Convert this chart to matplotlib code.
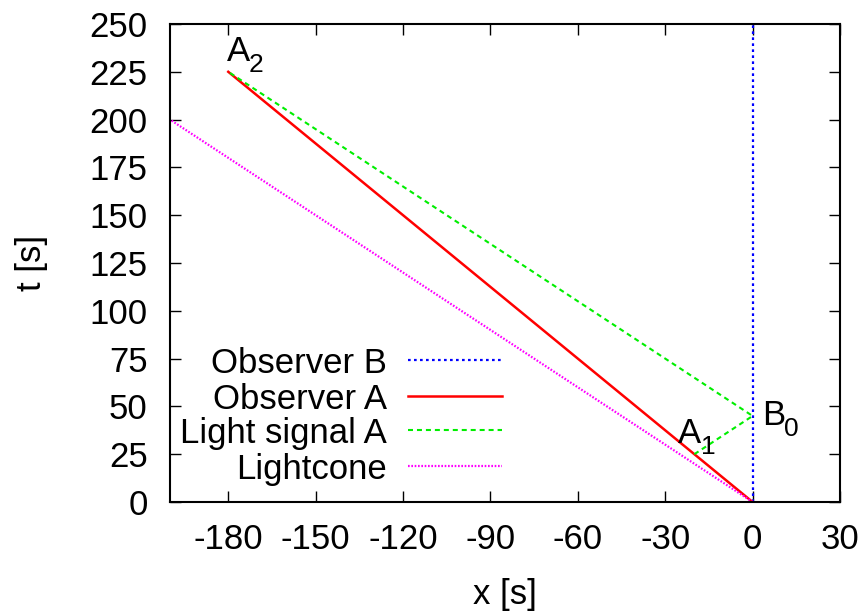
import matplotlib
matplotlib.use("Agg")
import matplotlib.pyplot as plt
from matplotlib.lines import Line2D

plt.rcParams['font.family'] = ['Liberation Sans', 'DejaVu Sans']
plt.rcParams['axes.unicode_minus'] = False

# Data
obsB_x = [0, 0]
obsB_t = [0, 250]
obsA_x = [0, -180]
obsA_t = [0, 225]
light_x = [-20, 0, -180]
light_t = [25, 45, 225]
cone_x = [0, -200]
cone_t = [0, 200]
xticks = [-180, -150, -120, -90, -60, -30, 0, 30]
yticks = [0, 25, 50, 75, 100, 125, 150, 175, 200, 225, 250]
point_labels = [('A', '2', -180.5, 230.5), ('A', '1', -25.5, 31), ('B', '0', 3.2, 40.3)]

FS = 25

fig = plt.figure(figsize=(8.68, 6.12), dpi=100)
ax = fig.add_axes([170/868, 1-502/612, (840-170)/868, (502-24)/612])

styles = {
    'Observer B': dict(color='#0000ff', lw=1.6, ls=(0, (1.2, 1.5))),
    'Observer A': dict(color='#ff0000', lw=1.8, ls='-'),
    'Light signal A': dict(color='#00ee00', lw=1.5, ls=(0, (2.4, 1.9))),
    'Lightcone': dict(color='#ff00ff', lw=1.6, ls=(0, (0.75, 0.75))),
}
ax.plot(obsB_x, obsB_t, **styles['Observer B'])
ax.plot(obsA_x, obsA_t, **styles['Observer A'])
ax.plot(light_x, light_t, **styles['Light signal A'])
ax.plot(cone_x, cone_t, **styles['Lightcone'])

ax.set_xlim(-200, 30)
ax.set_ylim(0, 250)
ax.set_xticks(xticks)
ax.set_yticks(yticks)
ax.tick_params(direction='in', length=8, width=1, top=True, right=True, labelsize=FS)
ax.tick_params(axis='y', pad=16)
ax.tick_params(axis='x', pad=15)
for s in ax.spines.values():
    s.set_linewidth(1.5)
ax.set_xlabel('x [s]', fontsize=FS, labelpad=16)
ax.set_ylabel('t [s]', fontsize=FS, labelpad=30)

# Point labels with gnuplot-style subscripts
for main, sub, x, t in point_labels:
    ax.text(x, t, main, fontsize=FS, ha='left', va='baseline')
    ax.annotate(sub, xy=(x, t), xytext=(16, -8), textcoords='offset points',
                fontsize=19, ha='left', va='baseline')

# Manual legend (text right-aligned, sample to the right)
names = ['Observer B', 'Observer A', 'Light signal A', 'Lightcone']
ys = [360, 396, 430, 466]
for name, ypx in zip(names, ys):
    yax = (502 - ypx) / (502 - 24)
    ax.text((387 - 170) / 670, yax, name, transform=ax.transAxes, fontsize=FS,
            ha='right', va='center_baseline')
    ax.add_line(Line2D([(408 - 170) / 670, (502 - 170) / 670], [yax, yax],
                       transform=ax.transAxes, **styles[name]))

fig.savefig('out.png', dpi=100)
